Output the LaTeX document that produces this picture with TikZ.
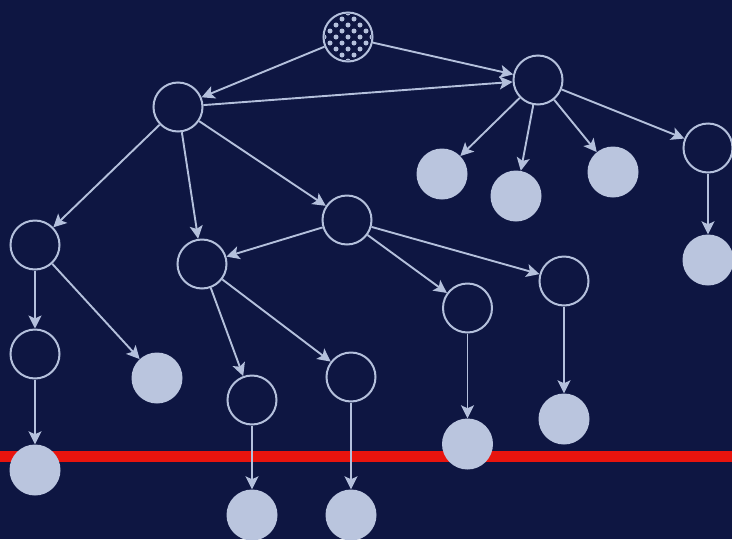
\documentclass[tikz,border=0pt]{standalone}
\usetikzlibrary{arrows.meta}
\definecolor{bg}{RGB}{14,22,66}
\definecolor{ln}{RGB}{180,192,220}
\definecolor{fl}{RGB}{186,197,222}
\definecolor{rd}{RGB}{232,20,14}
\begin{document}
\begin{tikzpicture}[x=1pt,y=-1pt,
  hollow/.style={circle,draw=ln,line width=2pt,minimum size=49pt,inner sep=0pt},
  solid/.style={circle,fill=fl,minimum size=51pt,inner sep=0pt},
  edge/.style={draw=ln,line width=1.9pt,-{Stealth[length=13pt,width=13pt,inset=3pt]}}]
\fill[bg] (0,0) rectangle (732,539);
\useasboundingbox (0,0) rectangle (732,539);
\fill[rd] (0,451) rectangle (732,462);
% root with dots
\node[hollow] (r) at (348,37) {};
\begin{scope}
  \clip (348,37) circle (23);
  \foreach \j in {-5,...,5}{
    \pgfmathsetmacro{\off}{abs(mod(\j,2))*6}
    \foreach \i in {-3,...,3}{
      \fill[ln] ({348+\i*12+\off},{37+\j*6}) circle (2.5);
    }
  }
\end{scope}
% level nodes
\node[hollow] (a) at (178,107) {};
\node[hollow] (b) at (538,80) {};
\node[solid]  (b1) at (442,174) {};
\node[solid]  (b2) at (516,196) {};
\node[solid]  (b3) at (613,172) {};
\node[hollow] (h) at (708,148) {};
\node[solid]  (h1) at (708,260) {};
\node[hollow] (c) at (35,245) {};
\node[hollow] (c1) at (35,354) {};
\node[solid]  (c2) at (35,470) {};
\node[solid]  (c3) at (157,378) {};
\node[hollow] (d) at (202,264) {};
\node[hollow] (d1) at (252,400) {};
\node[solid]  (d2) at (252,515) {};
\node[hollow] (d3) at (351,377) {};
\node[solid]  (d4) at (351,515) {};
\node[hollow] (e) at (347,220) {};
\node[hollow] (e1) at (467.5,308) {};
\node[solid]  (e2) at (467.5,444) {};
\node[hollow] (e3) at (564,281) {};
\node[solid]  (e4) at (564,419) {};
% edges
\draw[edge] (r) -- (a);
\draw[edge] (r) -- (b);
\draw[edge] (a) -- (b);
\draw[edge] (a) -- (c);
\draw[edge] (a) -- (d);
\draw[edge] (a) -- (e);
\draw[edge] (b) -- (b1);
\draw[edge] (b) -- (b2);
\draw[edge] (b) -- (b3);
\draw[edge] (b) -- (h);
\draw[edge] (h) -- (h1);
\draw[edge] (c) -- (c1);
\draw[edge] (c1) -- (c2);
\draw[edge] (c) -- (c3);
\draw[edge] (d) -- (d1);
\draw[edge] (d1) -- (d2);
\draw[edge] (d) -- (d3);
\draw[edge] (d3) -- (d4);
\draw[edge] (e) -- (d);
\draw[edge] (e) -- (e1);
\draw[edge] (e1) -- (e2);
\draw[edge] (e) -- (e3);
\draw[edge] (e3) -- (e4);
\end{tikzpicture}
\end{document}
